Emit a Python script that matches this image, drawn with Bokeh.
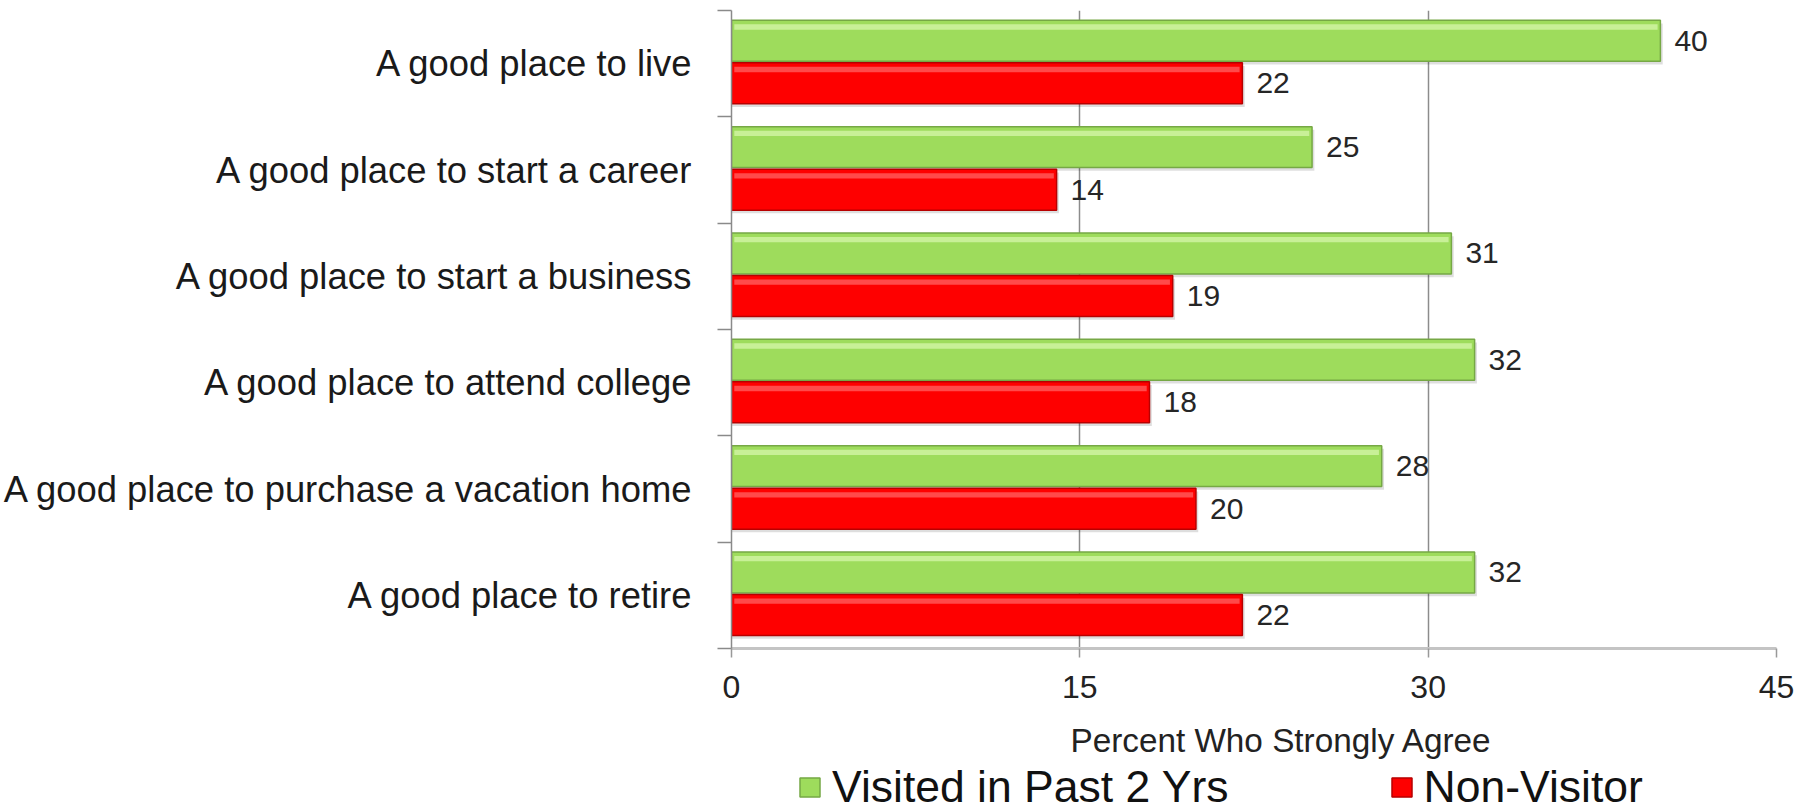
from bokeh.plotting import figure
from bokeh.layouts import column
from bokeh.models import Range1d, FixedTicker, Legend, LegendItem, Label, ColumnDataSource
from bokeh.core.properties import value
from bokeh.embed import file_html
from bokeh.resources import INLINE

# ---- data ----
categories = [
    "A good place to live",
    "A good place to start a career",
    "A good place to start a business",
    "A good place to attend college",
    "A good place to purchase a vacation home",
    "A good place to retire",
]
visited = [40, 25, 31, 32, 28, 32]
non_visitor = [22, 14, 19, 18, 20, 22]
series_names = ["Visited in Past 2 Yrs", "Non-Visitor"]
x_ticks = [0, 15, 30, 45]
x_title = "Percent Who Strongly Agree"

FONT = "Liberation Sans"
GREEN, GREEN_LINE, GREEN_HI = "#9edc5c", "#76a845", "#c8f097"
RED, RED_LINE, RED_HI = "#fe0000", "#b80000", "#ff4a4a"

n = len(categories)
centers = [n - 0.5 - i for i in range(n)]
yv = [c + 0.215 for c in centers]
yn = [c - 0.185 for c in centers]
H = 0.385

src = ColumnDataSource(dict(
    yv=yv, yn=yn, visited=visited, non=non_visitor,
    yv_hi=[y + 0.13 for y in yv], yn_hi=[y + 0.13 for y in yn],
    v_hi=[v - 0.12 for v in visited], n_hi=[v - 0.12 for v in non_visitor],
    yv_sh=[y - 0.03 for y in yv], yn_sh=[y - 0.03 for y in yn],
    v_sh=[v + 0.1 for v in visited], n_sh=[v + 0.1 for v in non_visitor],
    vl=[str(v) for v in visited], nl=[str(v) for v in non_visitor],
))

LEFT, RIGHT = 731, 38

p = figure(width=1814, height=720, x_range=Range1d(0, 45), y_range=Range1d(0, n),
           output_backend="svg", toolbar_location=None,
           min_border_left=LEFT, min_border_right=RIGHT, min_border_top=10, min_border_bottom=72)
p.outline_line_color = None
p.ygrid.visible = False
p.xgrid.ticker = FixedTicker(ticks=x_ticks[1:])
p.xgrid.grid_line_color = "#8c8c8c"
p.xgrid.grid_line_width = 1.5

# x axis
xa = p.xaxis[0]
xa.ticker = FixedTicker(ticks=x_ticks)
xa.axis_line_color = "#c4c4c4"
xa.axis_line_width = 3
xa.major_tick_out = 9
xa.major_tick_in = 0
xa.major_tick_line_color = "#999999"
xa.major_tick_line_width = 1.5
xa.minor_tick_line_color = None
xa.major_label_text_font = FONT
xa.major_label_text_font_size = "32px"
xa.major_label_text_color = "#222222"
xa.major_label_standoff = 18

# y axis: labels at category centres, ticks at boundaries
ya = p.yaxis[0]
ya.ticker = FixedTicker(ticks=centers, minor_ticks=list(range(n + 1)))
ya.major_label_overrides = {c: cat for c, cat in zip(centers, categories)}
ya.axis_line_color = "#8a8a8a"
ya.axis_line_width = 1.5
ya.major_tick_out = 0
ya.major_tick_in = 0
ya.minor_tick_out = 14
ya.minor_tick_in = 0
ya.minor_tick_line_color = "#8a8a8a"
ya.minor_tick_line_width = 1.5
ya.major_label_standoff = 24
ya.major_label_text_font = FONT
ya.major_label_text_font_size = "36.4px"
ya.major_label_text_color = "#1a1a1a"

# shadows
p.hbar(y="yv_sh", left=0, right="v_sh", height=H, source=src, fill_color="black", fill_alpha=0.13, line_color=None)
p.hbar(y="yn_sh", left=0, right="n_sh", height=H, source=src, fill_color="black", fill_alpha=0.13, line_color=None)

# bars
p.hbar(y="yv", left=0, right="visited", height=H, source=src,
       fill_color=GREEN, line_color=GREEN_LINE, line_width=1.5)
p.hbar(y="yn", left=0, right="non", height=H, source=src,
       fill_color=RED, line_color=RED_LINE, line_width=1.5)
# top highlights
p.hbar(y="yv_hi", left=0.12, right="v_hi", height=0.05, source=src, fill_color=GREEN_HI, line_color=None)
p.hbar(y="yn_hi", left=0.12, right="n_hi", height=0.05, source=src, fill_color=RED_HI, line_color=None)

# value labels
p.text(x="visited", y="yv", text="vl", source=src, x_offset=14, text_baseline="middle",
       text_align="left", text_font=value(FONT), text_font_size="30px", text_color="#262626")
p.text(x="non", y="yn", text="nl", source=src, x_offset=14, text_baseline="middle",
       text_align="left", text_font=value(FONT), text_font_size="30px", text_color="#262626")

# ---- strip below: axis title + legend ----
p2 = figure(width=1814, height=92, x_range=Range1d(0, 45), y_range=Range1d(0, 92),
            output_backend="svg", toolbar_location=None,
            x_axis_location=None, y_axis_location=None,
            min_border_left=LEFT, min_border_right=RIGHT, min_border_top=0, min_border_bottom=0)
p2.outline_line_color = None
p2.grid.visible = False

p2.add_layout(Label(x=23.68, y=72.5, text=x_title, text_align="center", text_baseline="middle",
                    text_font=FONT, text_font_size="33.3px", text_color="#222222"))

# legend swatches: same series, hidden in this strip (only their legend glyphs are drawn)
g_sw = p2.hbar(y="yv", right="visited", height=H, source=src,
               fill_color=GREEN, line_color=GREEN_LINE, line_width=1.5, visible=False)
r_sw = p2.hbar(y="yn", right="non", height=H, source=src,
               fill_color=RED, line_color=RED_LINE, line_width=1.5, visible=False)

legend = Legend(items=[LegendItem(label=series_names[0], renderers=[g_sw]),
                       LegendItem(label=series_names[1], renderers=[r_sw])],
                orientation="horizontal", location=(66, 0),
                glyph_width=25, glyph_height=24, label_standoff=10, spacing=160,
                padding=0, margin=0, border_line_color=None, background_fill_alpha=0,
                inactive_fill_alpha=0,
                label_text_font=FONT, label_text_font_size="44.5px", label_text_color="#111111")
p2.add_layout(legend, "center")

layout = column(p, p2, spacing=0)
open("out.html", "w").write(file_html(layout, INLINE))
